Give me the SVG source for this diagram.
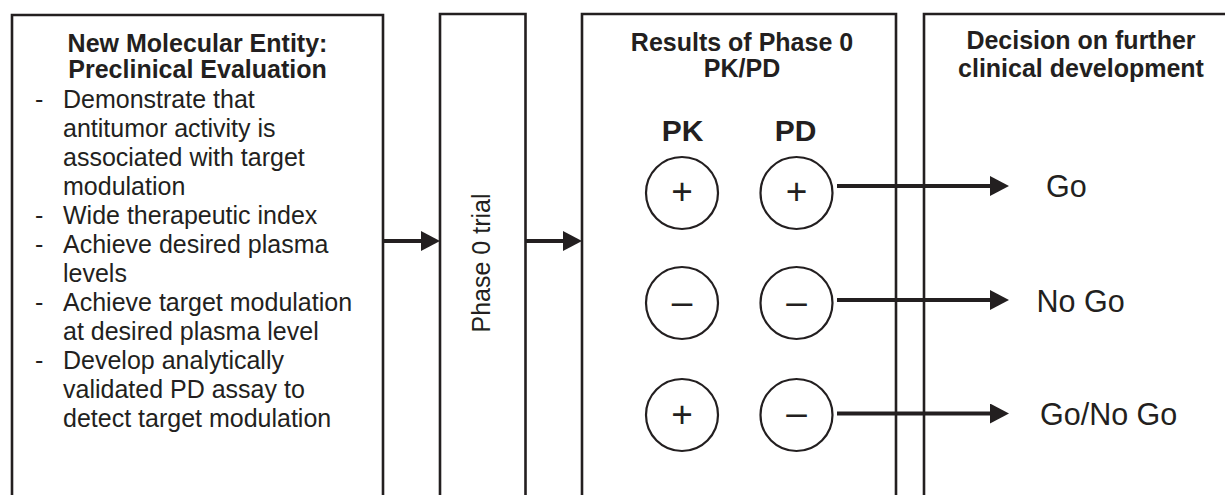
<svg xmlns="http://www.w3.org/2000/svg" width="1225" height="495" viewBox="0 0 1225 495">
<style>
.box{fill:none;stroke:#231f20;stroke-width:2.6}
.circ{fill:#fff;stroke:#231f20;stroke-width:2.2}
.t{font-family:"Liberation Sans",Arial,sans-serif;fill:#231f20}
.b{font-weight:bold;font-size:25px;text-anchor:middle}
.body{font-size:25px}
.big{font-size:30.5px}
.sym{font-size:37px;text-anchor:middle}
.pk{font-weight:bold;font-size:30px;text-anchor:middle}
.conn{stroke:#231f20;stroke-width:4;fill:none}
</style>
<defs>
<marker id="ah" viewBox="0 0 19 20" refX="0" refY="10" markerWidth="19" markerHeight="20" markerUnits="userSpaceOnUse" orient="auto">
<path d="M0,0 L19,10 L0,20 z" fill="#231f20"/>
</marker>
</defs>
<rect width="1225" height="495" fill="#fff"/>
<g id="preclinical">
<path class="box" d="M12,500 V15 H383 V500"/>
<text class="t b" x="197.5" y="52">New Molecular Entity:</text>
<text class="t b" x="197.5" y="78">Preclinical Evaluation</text>
<g class="t body">
<text x="35" y="108">-</text><text x="63" y="108">Demonstrate that</text>
<text x="63" y="137">antitumor activity is</text>
<text x="63" y="166">associated with target</text>
<text x="63" y="195">modulation</text>
<text x="35" y="224">-</text><text x="63" y="224">Wide therapeutic index</text>
<text x="35" y="253">-</text><text x="63" y="253">Achieve desired plasma</text>
<text x="63" y="282">levels</text>
<text x="35" y="311">-</text><text x="63" y="311">Achieve target modulation</text>
<text x="63" y="340">at desired plasma level</text>
<text x="35" y="369">-</text><text x="63" y="369">Develop analytically</text>
<text x="63" y="398">validated PD assay to</text>
<text x="63" y="427">detect target modulation</text>
</g>
</g>
<g id="phase0">
<path class="box" d="M440,500 V14 H525.5 V500"/>
<text class="t body" text-anchor="middle" transform="translate(490,263) rotate(-90)">Phase 0 trial</text>
</g>
<g id="results">
<path class="box" d="M582,500 V14 H896 V500"/>
<text class="t b" x="742" y="51">Results of Phase 0</text>
<text class="t b" x="742" y="77">PK/PD</text>
<text class="t pk" x="682.5" y="141">PK</text>
<text class="t pk" x="795.5" y="141">PD</text>
</g>
<g id="decision">
<path class="box" d="M924,500 V14 H1240"/>
<text class="t b" x="1081" y="49">Decision on further</text>
<text class="t b" x="1081" y="77">clinical development</text>
</g>
<g id="connectors">
<line class="conn" x1="383" y1="241" x2="421" y2="241" marker-end="url(#ah)"/>
<line class="conn" x1="525.5" y1="241" x2="563" y2="241" marker-end="url(#ah)"/>
<line class="conn" x1="837" y1="186" x2="990" y2="186" marker-end="url(#ah)"/>
<line class="conn" x1="837" y1="300" x2="990" y2="300" marker-end="url(#ah)"/>
<line class="conn" x1="837" y1="413.5" x2="990" y2="413.5" marker-end="url(#ah)"/>
</g>
<g id="pk-plus-1"><circle class="circ" cx="682" cy="193" r="36"/><text class="t sym" x="682" y="204">+</text></g>
<g id="pd-plus-1"><circle class="circ" cx="796.5" cy="193" r="36"/><text class="t sym" x="796.5" y="204">+</text></g>
<g id="pk-minus-2"><circle class="circ" cx="682" cy="303" r="36"/><text class="t sym" x="682" y="313.5">–</text></g>
<g id="pd-minus-2"><circle class="circ" cx="796.5" cy="303" r="36"/><text class="t sym" x="796.5" y="313.5">–</text></g>
<g id="pk-plus-3"><circle class="circ" cx="682" cy="415" r="36"/><text class="t sym" x="682" y="426.5">+</text></g>
<g id="pd-minus-3"><circle class="circ" cx="796.5" cy="415" r="36"/><text class="t sym" x="796.5" y="425">–</text></g>
<g id="go"><text class="t big" x="1046" y="197">Go</text></g>
<g id="nogo"><text class="t big" x="1036.5" y="311.5">No Go</text></g>
<g id="gonogo"><text class="t big" x="1040" y="425">Go/No Go</text></g>
</svg>
